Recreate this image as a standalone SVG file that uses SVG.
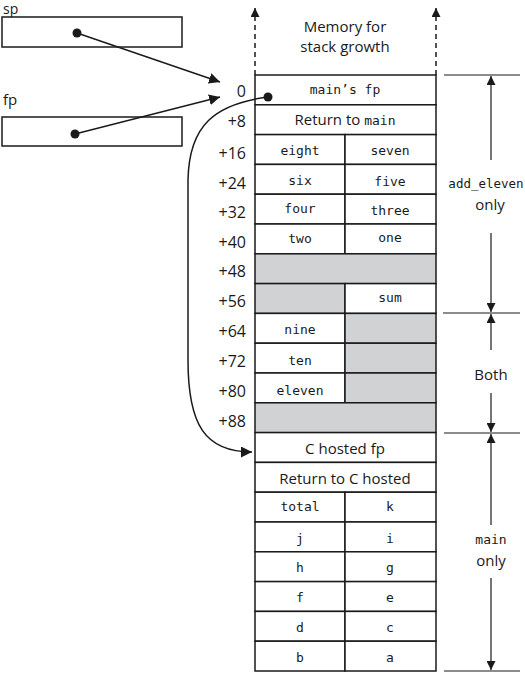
<svg xmlns="http://www.w3.org/2000/svg" width="525" height="673" viewBox="0 0 525 673">
<defs>
<marker id="ah" viewBox="0 0 10 10" refX="10" refY="5" markerWidth="9" markerHeight="9" markerUnits="userSpaceOnUse" orient="auto">
<path d="M0,0 L10,5 L0,10 z" fill="#1a1a1a"/>
</marker>
<marker id="ah2" viewBox="0 0 10 10" refX="10" refY="5" markerWidth="11" markerHeight="11" markerUnits="userSpaceOnUse" orient="auto">
<path d="M0,0 L10,5 L0,10 z" fill="#1a1a1a"/>
</marker>
</defs>
<style>
.box{fill:#fff;stroke:#1a1a1a;stroke-width:1.5}
.gray{fill:#d1d2d4;stroke:#1a1a1a;stroke-width:1.5}
.ln{stroke:#1a1a1a;stroke-width:1.5;fill:none}
.thin{stroke:#1a1a1a;stroke-width:1.2;fill:none}
.sans{font-family:"Open Sans","Liberation Sans",sans-serif;font-size:15px;fill:#1a1a1a}
.mono{font-family:"DejaVu Sans Mono","Liberation Mono",monospace;font-size:13px;fill:#1a1a1a}
.off{font-family:"Open Sans","Liberation Sans",sans-serif;font-size:16px;fill:#1a1a1a;text-anchor:end}
.c{text-anchor:middle}
</style>

<g id="sp">
<text class="sans" x="3" y="14" style="font-size:14px">sp</text>
<rect class="box" x="2" y="17" width="180" height="30"/>
<circle cx="77" cy="33" r="4.5" fill="#1a1a1a"/>
</g>
<g id="fp">
<text class="sans" x="3" y="105">fp</text>
<rect class="box" x="2" y="117" width="180" height="29"/>
<circle cx="75" cy="134" r="4.5" fill="#1a1a1a"/>
</g>

<g id="growth">
<text class="sans c" x="345" y="32">Memory for</text>
<text class="sans c" x="345" y="52">stack growth</text>
</g>

<g id="offsets">
<text class="off" x="246" y="97">0</text>
<text class="off" x="246" y="127">+8</text>
<text class="off" x="246" y="159">+16</text>
<text class="off" x="246" y="189">+24</text>
<text class="off" x="246" y="218">+32</text>
<text class="off" x="246" y="248">+40</text>
<text class="off" x="246" y="277">+48</text>
<text class="off" x="246" y="307">+56</text>
<text class="off" x="246" y="337">+64</text>
<text class="off" x="246" y="367">+72</text>
<text class="off" x="246" y="397">+80</text>
<text class="off" x="246" y="427">+88</text>
</g>

<g id="stack">
<rect class="box" x="255" y="75" width="181" height="29.8"/>
<text class="mono c" x="345" y="94">main’s fp</text>
<circle cx="268" cy="97" r="4.5" fill="#1a1a1a"/>
<rect class="box" x="255" y="104.8" width="181" height="29.8"/>
<text class="sans c" x="345" y="125"><tspan>Return to </tspan><tspan class="mono">main</tspan></text>

<rect class="box" x="255" y="134.6" width="90" height="29.8"/>
<rect class="box" x="345" y="134.6" width="91" height="29.8"/>
<text class="mono c" x="300" y="155">eight</text>
<text class="mono c" x="390" y="155">seven</text>

<rect class="box" x="255" y="164.4" width="90" height="29.8"/>
<rect class="box" x="345" y="164.4" width="91" height="29.8"/>
<text class="mono c" x="300" y="185">six</text>
<text class="mono c" x="390" y="186">five</text>

<rect class="box" x="255" y="194.2" width="90" height="29.8"/>
<rect class="box" x="345" y="194.2" width="91" height="29.8"/>
<text class="mono c" x="300" y="213">four</text>
<text class="mono c" x="390" y="215">three</text>

<rect class="box" x="255" y="224" width="90" height="29.8"/>
<rect class="box" x="345" y="224" width="91" height="29.8"/>
<text class="mono c" x="300" y="243">two</text>
<text class="mono c" x="390" y="242">one</text>

<rect class="gray" x="255" y="253.8" width="181" height="29.8"/>

<rect class="gray" x="255" y="283.6" width="90" height="29.8"/>
<rect class="box" x="345" y="283.6" width="91" height="29.8"/>
<text class="mono c" x="390" y="302">sum</text>

<rect class="box" x="255" y="313.4" width="90" height="29.8"/>
<rect class="gray" x="345" y="313.4" width="91" height="29.8"/>
<text class="mono c" x="300" y="334">nine</text>

<rect class="box" x="255" y="343.2" width="90" height="29.8"/>
<rect class="gray" x="345" y="343.2" width="91" height="29.8"/>
<text class="mono c" x="300" y="365">ten</text>

<rect class="box" x="255" y="373" width="90" height="29.8"/>
<rect class="gray" x="345" y="373" width="91" height="29.8"/>
<text class="mono c" x="300" y="395">eleven</text>

<rect class="gray" x="255" y="402.8" width="181" height="29.8"/>

<rect class="box" x="255" y="432.6" width="181" height="29.8"/>
<text class="sans c" x="345" y="454">C hosted fp</text>
<rect class="box" x="255" y="462.4" width="181" height="29.8"/>
<text class="sans c" x="345" y="484">Return to C hosted</text>

<rect class="box" x="255" y="492.2" width="90" height="29.8"/>
<rect class="box" x="345" y="492.2" width="91" height="29.8"/>
<text class="mono c" x="300" y="511">total</text>
<text class="mono c" x="390" y="511">k</text>

<rect class="box" x="255" y="522" width="90" height="29.8"/>
<rect class="box" x="345" y="522" width="91" height="29.8"/>
<text class="mono c" x="300" y="543">j</text>
<text class="mono c" x="390" y="543">i</text>

<rect class="box" x="255" y="551.8" width="90" height="29.8"/>
<rect class="box" x="345" y="551.8" width="91" height="29.8"/>
<text class="mono c" x="300" y="572">h</text>
<text class="mono c" x="390" y="572">g</text>

<rect class="box" x="255" y="581.6" width="90" height="29.8"/>
<rect class="box" x="345" y="581.6" width="91" height="29.8"/>
<text class="mono c" x="300" y="602">f</text>
<text class="mono c" x="390" y="602">e</text>

<rect class="box" x="255" y="611.4" width="90" height="29.8"/>
<rect class="box" x="345" y="611.4" width="91" height="29.8"/>
<text class="mono c" x="300" y="632">d</text>
<text class="mono c" x="390" y="632">c</text>

<rect class="box" x="255" y="641.2" width="90" height="29.8"/>
<rect class="box" x="345" y="641.2" width="91" height="29.8"/>
<text class="mono c" x="300" y="662">b</text>
<text class="mono c" x="390" y="662">a</text>
</g>

<g id="annotations">
<line class="thin" x1="444" y1="75" x2="520" y2="75"/>
<line class="thin" x1="443" y1="313" x2="520" y2="313"/>
<line class="thin" x1="444" y1="433" x2="520" y2="433"/>
<line class="thin" x1="444" y1="671" x2="520" y2="671"/>
<text class="mono c" x="486" y="188" style="font-size:12.5px">add_eleven</text>
<text class="sans c" x="490" y="210">only</text>
<text class="sans c" x="491" y="380">Both</text>
<text class="mono c" x="491" y="544">main</text>
<text class="sans c" x="491" y="566">only</text>
</g>

<g id="connectors">
<line class="ln" x1="77" y1="33" x2="220" y2="82" marker-end="url(#ah2)"/>
<line class="ln" x1="75" y1="134" x2="220" y2="97" marker-end="url(#ah2)"/>
<path class="ln" d="M268,97 C215,104 189,125 188,180 L188,360 C188,425 205,452 252,452" marker-end="url(#ah2)"/>
<line class="ln" x1="255" y1="75" x2="255" y2="8" stroke-dasharray="5,4" marker-end="url(#ah)"/>
<line class="ln" x1="436" y1="75" x2="436" y2="8" stroke-dasharray="5,4" marker-end="url(#ah)"/>
<line class="thin" x1="491" y1="160" x2="491" y2="76" marker-end="url(#ah)"/>
<line class="thin" x1="491" y1="233" x2="491" y2="312" marker-end="url(#ah)"/>
<line class="thin" x1="491" y1="350" x2="491" y2="314" marker-end="url(#ah)"/>
<line class="thin" x1="491" y1="393" x2="491" y2="432" marker-end="url(#ah)"/>
<line class="thin" x1="491" y1="525" x2="491" y2="434" marker-end="url(#ah)"/>
<line class="thin" x1="491" y1="578" x2="491" y2="670" marker-end="url(#ah)"/>
</g>
</svg>
